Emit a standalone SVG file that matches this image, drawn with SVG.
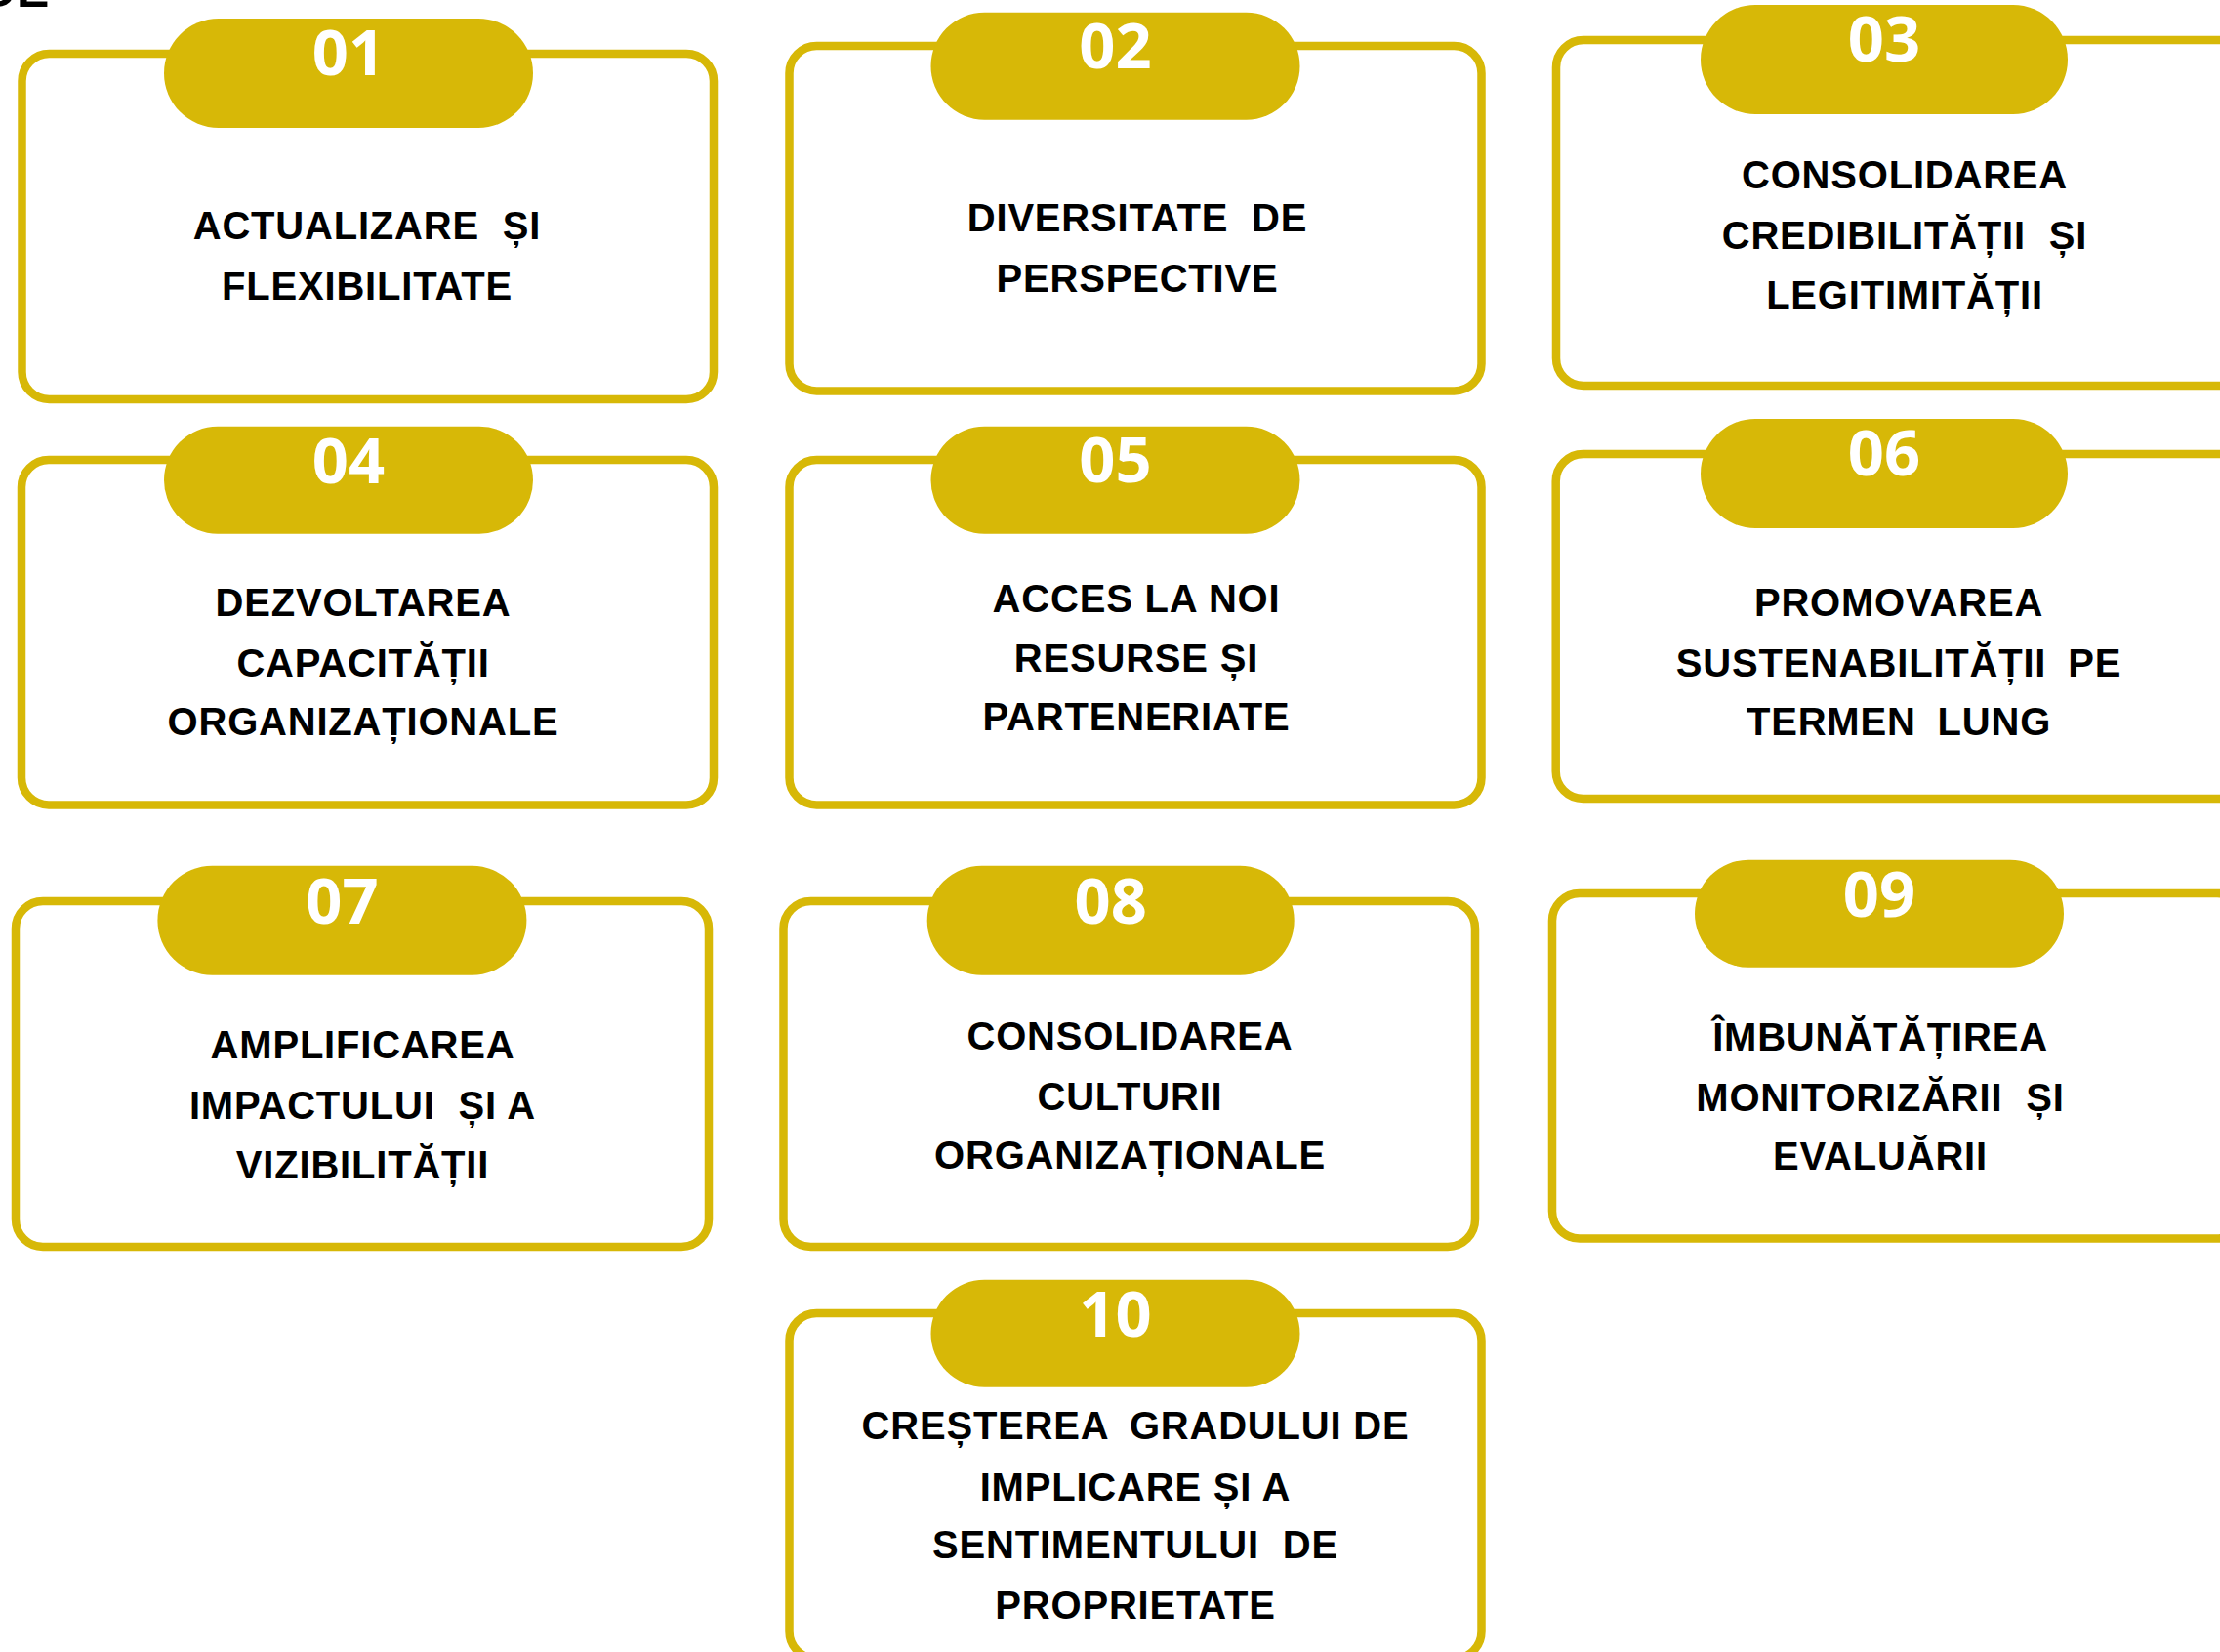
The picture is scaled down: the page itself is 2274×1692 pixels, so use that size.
<svg xmlns="http://www.w3.org/2000/svg" width="2274" height="1692" viewBox="0 0 2274 1692">
<style>
.bg{fill:#ffffff}
.box{fill:#ffffff;stroke:#D7B807;stroke-width:8.5}
.pill{fill:#D7B807}
.num{font-family:"Open Sans","Noto Sans",sans-serif;font-weight:700;font-size:65px;fill:#ffffff;text-anchor:middle}
.lbl{font-family:"Liberation Sans",Arial,sans-serif;font-weight:700;font-size:40px;letter-spacing:0.8px;fill:#000000;text-anchor:middle}
.cut{font-family:"Liberation Sans",Arial,sans-serif;font-weight:700;font-size:50px;fill:#000000}
</style>
<rect class="bg" x="0" y="0" width="2274" height="1692"/>
<text class="cut" x="-22" y="7">OE</text>
<g id="connectors"></g>

<g id="node01">
<rect class="box" x="22.5" y="55" width="708.5" height="354" rx="28"/>
<rect class="pill" x="168" y="19" width="378" height="112" rx="56"/>
<text class="num" x="357" y="77">01</text>
<text class="lbl" x="376" y="245">ACTUALIZARE <tspan dx="12">ȘI</tspan></text>
<text class="lbl" x="376" y="307">FLEXIBILITATE</text>
</g>

<g id="node02">
<rect class="box" x="808.5" y="47" width="709" height="353.5" rx="28"/>
<rect class="pill" x="953.5" y="12.7" width="378" height="110" rx="55"/>
<text class="num" x="1142.5" y="70">02</text>
<text class="lbl" x="1165" y="237">DIVERSITATE <tspan dx="12">DE</tspan></text>
<text class="lbl" x="1165" y="299">PERSPECTIVE</text>
</g>

<g id="node03">
<rect class="box" x="1594" y="41" width="709" height="354" rx="28"/>
<rect class="pill" x="1742" y="5" width="376" height="112" rx="56"/>
<text class="num" x="1930" y="63">03</text>
<text class="lbl" x="1951" y="193">CONSOLIDAREA</text>
<text class="lbl" x="1951" y="255">CREDIBILITĂȚII <tspan dx="12">ȘI</tspan></text>
<text class="lbl" x="1951" y="316">LEGITIMITĂȚII</text>
</g>

<g id="node04">
<rect class="box" x="22" y="471" width="709" height="353.5" rx="28"/>
<rect class="pill" x="168" y="436.7" width="378" height="110" rx="55"/>
<text class="num" x="357" y="495">04</text>
<text class="lbl" x="372" y="631">DEZVOLTAREA</text>
<text class="lbl" x="372" y="693">CAPACITĂȚII</text>
<text class="lbl" x="372" y="753">ORGANIZAȚIONALE</text>
</g>

<g id="node05">
<rect class="box" x="808.5" y="471" width="709" height="353.5" rx="28"/>
<rect class="pill" x="953.5" y="436.7" width="378" height="110" rx="55"/>
<text class="num" x="1142.5" y="494">05</text>
<text class="lbl" x="1164" y="627">ACCES LA NOI</text>
<text class="lbl" x="1164" y="688">RESURSE ȘI</text>
<text class="lbl" x="1164" y="748">PARTENERIATE</text>
</g>

<g id="node06">
<rect class="box" x="1593.7" y="465" width="709" height="353" rx="28"/>
<rect class="pill" x="1742" y="429" width="376" height="112" rx="56"/>
<text class="num" x="1930" y="487">06</text>
<text class="lbl" x="1945" y="631">PROMOVAREA</text>
<text class="lbl" x="1945" y="693">SUSTENABILITĂȚII <tspan dx="10">PE</tspan></text>
<text class="lbl" x="1945" y="753">TERMEN <tspan dx="10">LUNG</tspan></text>
</g>

<g id="node07">
<rect class="box" x="16" y="923" width="710" height="354" rx="28"/>
<rect class="pill" x="161.4" y="886.7" width="378" height="112" rx="56"/>
<text class="num" x="350.4" y="946">07</text>
<text class="lbl" x="371.5" y="1084">AMPLIFICAREA</text>
<text class="lbl" x="371.5" y="1146">IMPACTULUI <tspan dx="12">ȘI A</tspan></text>
<text class="lbl" x="371.5" y="1207">VIZIBILITĂȚII</text>
</g>

<g id="node08">
<rect class="box" x="802.5" y="923" width="708.5" height="354" rx="28"/>
<rect class="pill" x="949.7" y="886.7" width="376" height="112" rx="56"/>
<text class="num" x="1137.7" y="946">08</text>
<text class="lbl" x="1157.5" y="1075">CONSOLIDAREA</text>
<text class="lbl" x="1157.5" y="1137">CULTURII</text>
<text class="lbl" x="1157.5" y="1197">ORGANIZAȚIONALE</text>
</g>

<g id="node09">
<rect class="box" x="1590" y="915" width="709" height="353.5" rx="28"/>
<rect class="pill" x="1736" y="880.7" width="378" height="110" rx="55"/>
<text class="num" x="1925" y="939">09</text>
<text class="lbl" x="1926" y="1076">ÎMBUNĂTĂȚIREA</text>
<text class="lbl" x="1926" y="1138">MONITORIZĂRII <tspan dx="12">ȘI</tspan></text>
<text class="lbl" x="1926" y="1198">EVALUĂRII</text>
</g>

<g id="node10">
<rect class="box" x="808.5" y="1345" width="709" height="354" rx="28"/>
<rect class="pill" x="953.5" y="1310.7" width="378" height="110" rx="55"/>
<text class="num" x="1142.5" y="1369">10</text>
<text class="lbl" x="1163" y="1474">CREȘTEREA <tspan dx="10">GRADULUI DE</tspan></text>
<text class="lbl" x="1163" y="1537">IMPLICARE ȘI A</text>
<text class="lbl" x="1163" y="1596">SENTIMENTULUI <tspan dx="12">DE</tspan></text>
<text class="lbl" x="1163" y="1658">PROPRIETATE</text>
</g>
</svg>
